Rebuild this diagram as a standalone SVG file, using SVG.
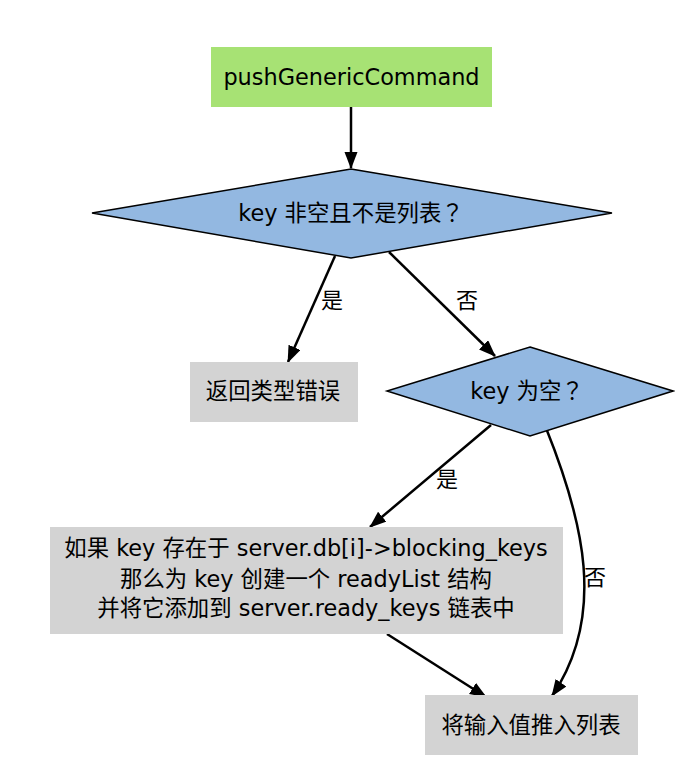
<svg xmlns="http://www.w3.org/2000/svg" width="675" height="783" viewBox="0 0 675 783">
<style>
text{font-family:"DejaVu Sans","Noto Sans CJK SC",sans-serif;font-size:22.4px;fill:#000;text-anchor:middle}
.lbl{font-size:22px}
.q{font-family:"Noto Sans CJK JP",sans-serif}
.green{fill:#a7e274;stroke:none}
.gray{fill:#d3d3d3;stroke:none}
.dia{fill:#93b8e1;stroke:#000;stroke-width:1.5}
.edge{fill:none;stroke:#000;stroke-width:2.5}
</style>
<defs>
<marker id="ah" markerUnits="userSpaceOnUse" markerWidth="18" markerHeight="14" refX="16" refY="6.5" orient="auto">
<path d="M0,0 L17,6.5 L0,13 z" fill="#000"/>
</marker>
</defs>
<rect width="675" height="783" fill="#fff"/>
<g id="edges">
<path class="edge" d="M351,107 L351,168" marker-end="url(#ah)"/>
<path class="edge" d="M335,256 L288,362" marker-end="url(#ah)"/>
<path class="edge" d="M389,252 L495,356" marker-end="url(#ah)"/>
<path class="edge" d="M491,425 L370,527" marker-end="url(#ah)"/>
<path class="edge" d="M546,428 C583,520 607,615 552,696" marker-end="url(#ah)"/>
<path class="edge" d="M387,634 L486,697" marker-end="url(#ah)"/>
<text class="lbl" x="332" y="308">是</text>
<text class="lbl" x="467" y="308">否</text>
<text class="lbl" x="447" y="487">是</text>
<text class="lbl" x="595" y="585">否</text>
</g>
<g id="start">
<rect class="green" x="211" y="47" width="281" height="60"/>
<text x="351.5" y="85">pushGenericCommand</text>
</g>
<g id="check1">
<polygon class="dia" points="351,169 612,213 351,258 92,213"/>
<text x="351" y="221">key 非空且不是列表<tspan class="q">？</tspan></text>
</g>
<g id="typeerr">
<rect class="gray" x="190" y="362" width="168" height="60"/>
<text x="273" y="399">返回类型错误</text>
</g>
<g id="check2">
<polygon class="dia" points="530,347 673,391 530,436 387,391"/>
<text x="527" y="399">key 为空<tspan class="q">？</tspan></text>
</g>
<g id="create">
<rect class="gray" x="50" y="527" width="513" height="107"/>
<text x="306" y="556">如果 key 存在于 server.db[i]-&gt;blocking_keys</text>
<text x="306" y="587">那么为 key 创建一个 readyList 结构</text>
<text x="306" y="616">并将它添加到 server.ready_keys 链表中</text>
</g>
<g id="push">
<rect class="gray" x="425" y="695" width="213" height="60"/>
<text x="531" y="733">将输入值推入列表</text>
</g>
</svg>
